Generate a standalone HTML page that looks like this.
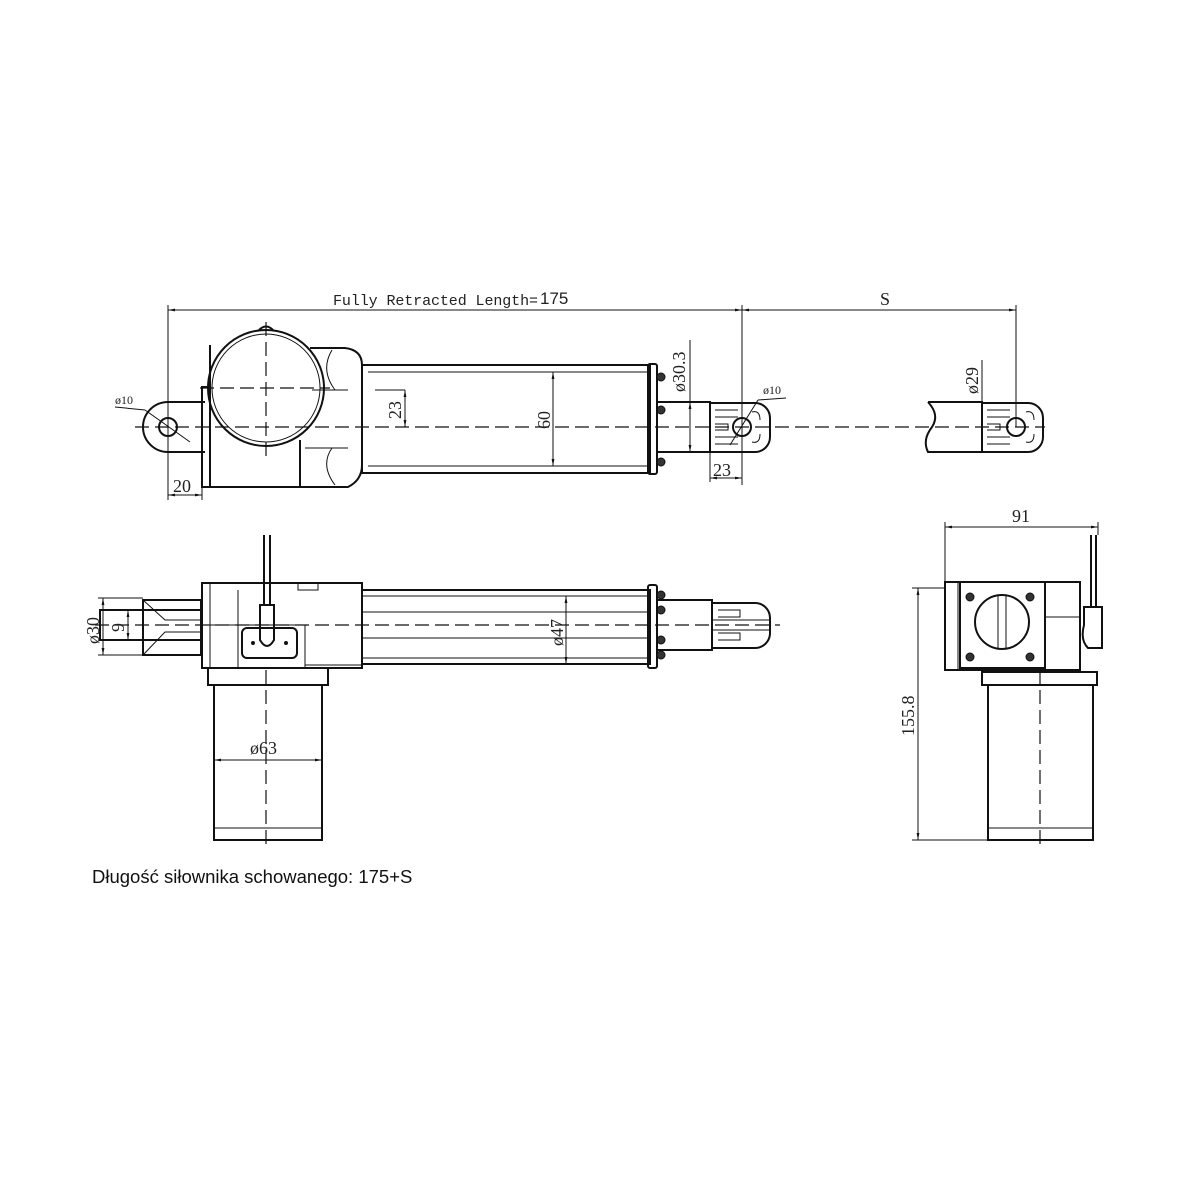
<!DOCTYPE html>
<html><head><meta charset="utf-8"><style>
html,body{margin:0;padding:0;background:#fff}
svg{display:block}
.s{stroke:#111;fill:none;stroke-width:2}
.t{stroke:#111;fill:none;stroke-width:1}
.c{stroke:#111;fill:none;stroke-width:1.2;stroke-dasharray:14 6}
.d{font-family:"Liberation Serif",serif;font-size:18px;fill:#222}
.m{font-family:"Liberation Mono",monospace;font-size:15px;fill:#222}
.b{fill:#333;stroke:#111;stroke-width:1}
</style></head><body>
<svg width="1200" height="1200" viewBox="0 0 1200 1200">
<defs><marker id="a" viewBox="0 0 10 10" refX="10" refY="5" markerWidth="9" markerHeight="7" orient="auto-start-reverse"><path d="M0,3 L10,5 L0,7z" fill="#111"/></marker></defs>

<!-- TOP VIEW -->
<line class="t" x1="168" y1="310" x2="742" y2="310" marker-start="url(#a)" marker-end="url(#a)"/>
<line class="t" x1="742" y1="310" x2="1016" y2="310" marker-start="url(#a)" marker-end="url(#a)"/>
<text class="m" x="333" y="305" textLength="205">Fully Retracted Length=</text>
<text x="540" y="304" font-family="Liberation Sans,sans-serif" font-size="17" fill="#222">175</text>
<text class="d" x="880" y="305">S</text>
<line class="t" x1="168" y1="305" x2="168" y2="500"/>
<line class="t" x1="742" y1="305" x2="742" y2="485"/>
<line class="t" x1="1016" y1="305" x2="1016" y2="427"/>
<line class="c" x1="135" y1="427" x2="1045" y2="427"/>
<!-- eye -->
<path class="s" d="M205,402 H168 A25,25 0 0 0 168,452 H205"/>
<circle class="s" cx="168" cy="427" r="9"/>
<line class="t" x1="145" y1="410" x2="190" y2="442"/>
<line class="t" x1="115" y1="407" x2="145" y2="410"/>
<text x="115" y="404" font-family="Liberation Serif,serif" font-size="12" fill="#222">ø10</text>
<line class="t" x1="168" y1="495" x2="202" y2="495" marker-start="url(#a)" marker-end="url(#a)"/>
<line class="t" x1="202" y1="470" x2="202" y2="500"/>
<text class="d" x="173" y="492">20</text>
<!-- housing -->
<rect class="s" x="202" y="387" width="8" height="100"/>
<path class="s" d="M210,487 V345 M210,487 H300 V440 M300,487 H348 Q362,480 362,465 V365 Q362,350 345,348 H310"/>
<circle class="s" cx="266" cy="388" r="58"/>
<circle class="t" cx="266" cy="388" r="54"/>
<path class="s" d="M258,331 Q266,322 274,331"/>
<line class="c" x1="200" y1="388" x2="330" y2="388"/>
<line class="c" x1="266" y1="322" x2="266" y2="460"/>
<path class="t" d="M312,390 H348 M305,448 H348 M332,350 Q320,370 335,390 M332,448 Q320,465 335,485"/>
<!-- tube -->
<rect class="s" x="362" y="365" width="288" height="108"/>
<line class="t" x1="368" y1="372" x2="650" y2="372"/>
<line class="t" x1="368" y1="466" x2="650" y2="466"/>
<line class="t" x1="375" y1="390" x2="405" y2="390"/>
<line class="t" x1="405" y1="390" x2="405" y2="427" marker-start="url(#a)" marker-end="url(#a)"/>
<text class="d" transform="translate(401,419) rotate(-90)">23</text>
<line class="t" x1="553" y1="372" x2="553" y2="466" marker-start="url(#a)" marker-end="url(#a)"/>
<text class="d" transform="translate(550,429) rotate(-90)">60</text>
<rect class="s" x="648" y="364" width="9" height="110" rx="2"/>
<circle class="b" cx="661" cy="377" r="4"/><circle class="b" cx="661" cy="410" r="4"/><circle class="b" cx="661" cy="462" r="4"/>
<!-- rod -->
<rect class="s" x="657" y="402" width="53" height="50"/>
<line class="t" x1="690" y1="340" x2="690" y2="402"/>
<line class="t" x1="690" y1="402" x2="690" y2="452" marker-start="url(#a)" marker-end="url(#a)"/>
<text class="d" transform="translate(685,392) rotate(-90)">ø30.3</text>
<path class="s" d="M710,403 H755 A15,15 0 0 1 770,418 V437 A15,15 0 0 1 755,452 H710 Z"/>
<path class="t" d="M715,410 H738 M715,417 H738 M715,424 H728 V430 H715 M715,437 H738 M715,444 H738 M752,412 Q760,410 760,420 M752,442 Q760,444 760,434"/>
<circle class="s" cx="742" cy="427" r="9"/>
<line class="t" x1="730" y1="445" x2="758" y2="400"/>
<line class="t" x1="758" y1="400" x2="786" y2="398"/>
<text x="763" y="394" font-family="Liberation Serif,serif" font-size="12" fill="#222">ø10</text>
<line class="t" x1="710" y1="452" x2="710" y2="482"/>
<line class="t" x1="710" y1="478" x2="742" y2="478" marker-start="url(#a)" marker-end="url(#a)"/>
<text class="d" x="713" y="476">23</text>
<!-- extended -->
<path class="s" d="M928,402 H982 V452 H928 Q922,440 932,427 Q940,415 928,402"/>
<path class="s" d="M982,403 H1028 A15,15 0 0 1 1043,418 V437 A15,15 0 0 1 1028,452 H982 Z"/>
<path class="t" d="M987,410 H1010 M987,417 H1010 M987,424 H1000 V430 H987 M987,437 H1010 M987,444 H1010 M1026,412 Q1034,410 1034,420 M1026,442 Q1034,444 1034,434"/>
<circle class="s" cx="1016" cy="427" r="9"/>
<line class="t" x1="982" y1="360" x2="982" y2="402"/>
<text class="d" transform="translate(978,394) rotate(-90)">ø29</text>

<!-- FRONT VIEW -->
<line class="c" x1="95" y1="625" x2="780" y2="625"/>
<rect class="s" x="202" y="583" width="160" height="85"/>
<line class="t" x1="210" y1="583" x2="210" y2="668"/>
<line class="t" x1="238" y1="590" x2="238" y2="668"/>
<line class="t" x1="202" y1="625" x2="305" y2="625"/>
<path class="t" d="M298,583 V590 H318 V583 M305,625 V668 M305,668 V665 H362"/>
<rect class="s" x="242" y="628" width="55" height="30" rx="5"/>
<circle cx="253" cy="643" r="2" fill="#111"/><circle cx="286" cy="643" r="2" fill="#111"/>
<path class="s" d="M264,535 V605 M270,535 V605 M260,605 H274 V640 Q267,652 260,640 Z"/>
<rect class="s" x="362" y="590" width="288" height="74"/>
<line class="t" x1="362" y1="596" x2="650" y2="596"/>
<line class="t" x1="362" y1="612" x2="650" y2="612"/>
<line class="t" x1="362" y1="638" x2="650" y2="638"/>
<line class="t" x1="362" y1="658" x2="650" y2="658"/>
<line class="t" x1="566" y1="596" x2="566" y2="664" marker-start="url(#a)" marker-end="url(#a)"/>
<text class="d" transform="translate(563,646) rotate(-90)">ø47</text>
<rect class="s" x="648" y="585" width="9" height="83" rx="2"/>
<circle class="b" cx="661" cy="595" r="4"/><circle class="b" cx="661" cy="610" r="4"/><circle class="b" cx="661" cy="640" r="4"/><circle class="b" cx="661" cy="655" r="4"/>
<rect class="s" x="657" y="600" width="55" height="50"/>
<path class="s" d="M712,603 H755 A15,15 0 0 1 770,618 V633 A15,15 0 0 1 755,648 H712 Z"/>
<path class="t" d="M718,610 H740 V617 H718 M718,633 H740 V640 H718 M712,620 H770 M712,630 H770"/>
<!-- left shaft -->
<rect class="s" x="100" y="610" width="102" height="30"/>
<rect class="s" x="143" y="600" width="58" height="55"/>
<path class="t" d="M143,600 L165,620 H200 M143,655 L165,632 H200"/>
<line class="t" x1="98" y1="598" x2="143" y2="598"/><line class="t" x1="98" y1="655" x2="143" y2="655"/>
<line class="t" x1="103" y1="598" x2="103" y2="655" marker-start="url(#a)" marker-end="url(#a)"/>
<text class="d" transform="translate(99,644) rotate(-90)">ø30</text>
<line class="t" x1="128" y1="610" x2="128" y2="640" marker-start="url(#a)" marker-end="url(#a)"/>
<text class="d" transform="translate(124,632) rotate(-90)">9</text>
<!-- motor -->
<rect class="s" x="208" y="668" width="120" height="17"/>
<rect class="s" x="214" y="685" width="108" height="155"/>
<line class="t" x1="214" y1="828" x2="322" y2="828"/>
<line class="c" x1="266" y1="670" x2="266" y2="848"/>
<line class="t" x1="214" y1="760" x2="322" y2="760" marker-start="url(#a)" marker-end="url(#a)"/>
<text class="d" x="250" y="754">ø63</text>

<!-- SIDE VIEW -->
<line class="t" x1="945" y1="527" x2="1098" y2="527" marker-start="url(#a)" marker-end="url(#a)"/>
<line class="t" x1="945" y1="522" x2="945" y2="583"/>
<line class="t" x1="1098" y1="522" x2="1098" y2="535"/>
<text class="d" x="1012" y="522">91</text>
<rect class="s" x="945" y="582" width="135" height="88"/>
<line class="t" x1="958" y1="582" x2="958" y2="670"/>
<rect class="s" x="960" y="582" width="85" height="86"/>
<line class="t" x1="1045" y1="617" x2="1080" y2="617"/>
<circle class="s" cx="1002" cy="622" r="27"/>
<path class="t" d="M998,596 V648 M1006,596 V648"/>
<circle class="b" cx="970" cy="597" r="4"/><circle class="b" cx="1030" cy="597" r="4"/><circle class="b" cx="970" cy="657" r="4"/><circle class="b" cx="1030" cy="657" r="4"/>
<path class="s" d="M1091,535 V607 M1096,535 V607 M1084,607 H1102 V648 H1088 Q1080,640 1084,625 Z"/>
<rect class="s" x="982" y="672" width="115" height="13"/>
<rect class="s" x="988" y="685" width="105" height="155"/>
<line class="t" x1="988" y1="828" x2="1093" y2="828"/>
<line class="c" x1="1040" y1="670" x2="1040" y2="848"/>
<line class="t" x1="912" y1="588" x2="945" y2="588"/>
<line class="t" x1="912" y1="840" x2="988" y2="840"/>
<line class="t" x1="918" y1="588" x2="918" y2="840" marker-start="url(#a)" marker-end="url(#a)"/>
<text class="d" transform="translate(914,736) rotate(-90)">155.8</text>

<text x="92" y="883" font-family="Liberation Sans,sans-serif" font-size="18.5" fill="#111">Długość siłownika schowanego: 175+S</text>
</svg>
</body></html>
